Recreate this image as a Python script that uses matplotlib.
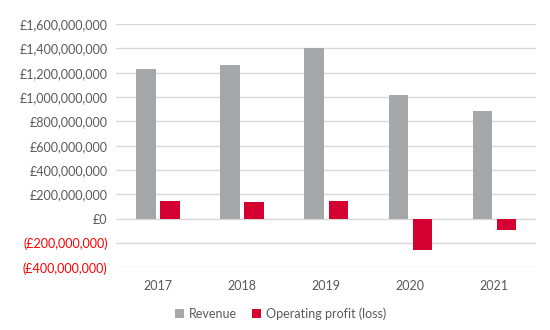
import matplotlib
matplotlib.use("Agg")
import matplotlib.pyplot as plt
import numpy as np
from matplotlib.ticker import FuncFormatter, MultipleLocator

years = ["2017", "2018", "2019", "2020", "2021"]
revenue = [1232e6, 1262e6, 1405e6, 1020e6, 889e6]
operating_profit = [146e6, 137e6, 144e6, -258e6, -90e6]

GREY = "#A5A8AA"
RED = "#D50032"
TEXT = "#595959"

plt.rcParams["font.family"] = ["Lato", "DejaVu Sans"]

fig = plt.figure(figsize=(5.5, 3.3), dpi=100)
ax = fig.add_axes([0.211, 0.19, 0.764, 0.737])

x = np.arange(len(years))
w = 0.23
off = 0.143
ax.bar(x - off, revenue, width=w, color=GREY, label="Revenue", zorder=3)
ax.bar(x + off, operating_profit, width=w, color=RED, label="Operating profit (loss)", zorder=3)

ax.set_xlim(-0.5, len(years) - 0.5)
ax.set_ylim(-400e6, 1600e6)
ax.yaxis.set_major_locator(MultipleLocator(200e6))


def money(v, pos):
    if v < 0:
        return f"(£{abs(v):,.0f})"
    return f"£{v:,.0f}"


ax.yaxis.set_major_formatter(FuncFormatter(money))
ax.grid(axis="y", color="#D9D9D9", linewidth=1.0, zorder=0)
for s in ax.spines.values():
    s.set_visible(False)
ax.tick_params(axis="both", length=0, labelsize=9, colors=TEXT)
ax.tick_params(axis="y", pad=6)
ax.tick_params(axis="x", pad=9)
ax.set_xticks(x)
ax.set_xticklabels(years)
fig.canvas.draw()
for lbl in ax.get_yticklabels():
    if lbl.get_text().startswith("("):
        lbl.set_color("red")

fig.legend(loc="center", bbox_to_anchor=(0.51, 0.05), ncol=2, frameon=False,
           fontsize=9, labelcolor=TEXT, handlelength=0.7, handleheight=0.7,
           handletextpad=0.4, columnspacing=1.2)

fig.savefig("out.png", dpi=100)
